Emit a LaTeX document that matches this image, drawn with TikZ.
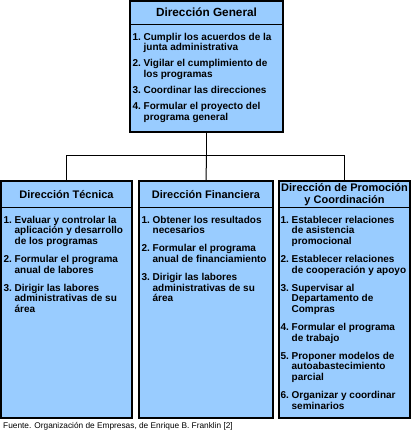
\documentclass[tikz,border=0pt]{standalone}
\usepackage{fontspec}
\setmainfont{Liberation Sans}
\usetikzlibrary{positioning}

\definecolor{boxblue}{RGB}{153,204,255}

\tikzset{
  dirbox/.style={draw=black, line width=1.3pt, fill=boxblue, inner sep=0pt},
  ttl/.style={font=\fontsize{11}{12.4}\selectfont\bfseries, align=center, inner sep=0pt},
  lst/.style={font=\fontsize{10}{10.6}\selectfont\bfseries, inner sep=0pt, anchor=north west},
  sep/.style={line width=1pt},
  conn/.style={line width=1pt}
}

\begin{document}
\begin{tikzpicture}[x=1pt, y=-1pt]
  % page frame
  \useasboundingbox (0,0) rectangle (412,440);

  % Boxes
  \node[dirbox, minimum width=153pt, minimum height=131pt] (gen) at (206.5,66.5) {};
  \node[dirbox, minimum width=131pt, minimum height=237pt] (tec) at (66.5,299.5) {};
  \node[dirbox, minimum width=134pt, minimum height=237pt] (fin) at (206,299.5) {};
  \node[dirbox, minimum width=131pt, minimum height=237pt] (prom) at (344.5,299.5) {};

  % Title separators
  \draw[sep] ([yshift=-24pt]gen.north west) -- ([yshift=-24pt]gen.north east);
  \draw[sep] ([yshift=-27pt]tec.north west) -- ([yshift=-27pt]tec.north east);
  \draw[sep] ([yshift=-27pt]fin.north west) -- ([yshift=-27pt]fin.north east);
  \draw[sep] ([yshift=-27pt]prom.north west) -- ([yshift=-27pt]prom.north east);

  % Titles
  \node[ttl, font=\fontsize{11.8}{13}\selectfont\bfseries] (gent) at ([yshift=-12pt]gen.north) {Dirección General};
  \node[ttl] (tect) at ([yshift=-14pt]tec.north) {Dirección Técnica};
  \node[ttl] (fint) at ([yshift=-14pt]fin.north) {Dirección Financiera};
  \node[ttl] (promt) at ([yshift=-14pt]prom.north) {Dirección de Promoción\\y Coordinación};

  % Functions
  \node[lst] (genl) at ([xshift=3pt, yshift=-32.3pt]gen.north west) {%
    \begin{tabular}{@{}l@{\ }l@{}}
      1. & Cumplir los acuerdos de la\\
         & junta administrativa\\[5.5pt]
      2. & Vigilar el cumplimiento de\\
         & los programas\\[5.5pt]
      3. & Coordinar las direcciones\\[5.5pt]
      4. & Formular el proyecto del\\
         & programa general
    \end{tabular}};
  \node[lst] (tecl) at ([xshift=3pt, yshift=-35.3pt]tec.north west) {%
    \begin{tabular}{@{}l@{\ }l@{}}
      1. & Evaluar y controlar la\\
         & aplicación y desarrollo\\
         & de los programas\\[7.5pt]
      2. & Formular el programa\\
         & anual de labores\\[7.5pt]
      3. & Dirigir las labores\\
         & administrativas de su\\
         & área
    \end{tabular}};
  \node[lst] (finl) at ([xshift=3pt, yshift=-35.3pt]fin.north west) {%
    \begin{tabular}{@{}l@{\ }l@{}}
      1. & Obtener los resultados\\
         & necesarios\\[7.5pt]
      2. & Formular el programa\\
         & anual de financiamiento\\[7.5pt]
      3. & Dirigir las labores\\
         & administrativas de su\\
         & área
    \end{tabular}};
  \node[lst] (proml) at ([xshift=2pt, yshift=-35.3pt]prom.north west) {%
    \begin{tabular}{@{}l@{\ }l@{}}
      1. & Establecer relaciones\\
         & de asistencia\\
         & promocional\\[7.5pt]
      2. & Establecer relaciones\\
         & de cooperación y apoyo\\[7.5pt]
      3. & Supervisar al\\
         & Departamento de\\
         & Compras\\[7.5pt]
      4. & Formular el programa\\
         & de trabajo\\[7.5pt]
      5. & Proponer modelos de\\
         & autoabastecimiento\\
         & parcial\\[7.5pt]
      6. & Organizar y coordinar\\
         & seminarios
    \end{tabular}};

  % Connectors
  \draw[conn] (gen.south) -- ++(0,23) coordinate (bus);
  \draw[conn] (tec.north) |- (bus) -| (prom.north);
  \draw[conn] (bus) -- (fin.north);

  % Source
  \node[anchor=west, inner sep=0pt, font=\fontsize{8.3}{10}\selectfont] (src) at (3,426)
    {Fuente. Organización de Empresas, de Enrique B. Franklin [2]};
\end{tikzpicture}
\end{document}
